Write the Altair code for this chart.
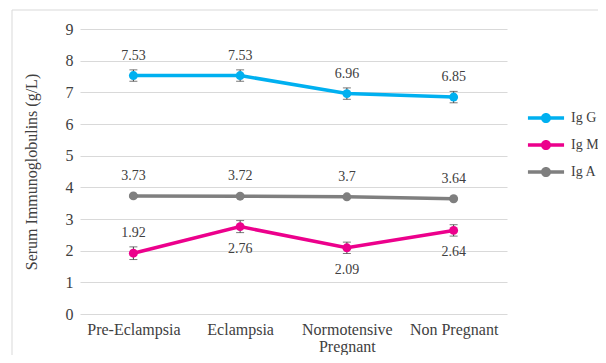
import altair as alt
import pandas as pd

categories = ["Pre-Eclampsia", "Eclampsia", "Normotensive\nPregnant", "Non Pregnant"]
series_names = ["Ig G", "Ig M", "Ig A"]
igg = [7.53, 7.53, 6.96, 6.85]
igm = [1.92, 2.76, 2.09, 2.64]
iga = [3.73, 3.72, 3.70, 3.64]
igg_err = [0.18, 0.18, 0.18, 0.18]
igm_err = [0.20, 0.19, 0.18, 0.18]
iga_err = [0.03, 0.03, 0.03, 0.03]
y_ticks = [0, 1, 2, 3, 4, 5, 6, 7, 8, 9]
colors = ["#00B0F0", "#EC008C", "#7F7F7F"]

rows = []
for name, vals, errs in zip(series_names, [igg, igm, iga], [igg_err, igm_err, iga_err]):
    for i, (c, v, e) in enumerate(zip(categories, vals, errs)):
        rows.append({"cat": c, "idx": i, "series": name, "value": v,
                     "lo": v - e, "hi": v + e, "label": f"{v:g}"})
df = pd.DataFrame(rows)

FONT = "Liberation Serif"
TXT = "#404040"

x_axis = alt.Axis(labelExpr="split(datum.label, '\\n')", labelAngle=0,
                  labelFontSize=16, labelFont=FONT, labelColor=TXT,
                  labelPadding=7, labelLineHeight=17, ticks=False,
                  domain=False, grid=False, labelOverlap=False)
y_axis = alt.Axis(values=y_ticks, labelFontSize=16, labelFont=FONT,
                  labelColor=TXT, titleFont=FONT, titleFontSize=16,
                  titleColor=TXT, titleFontWeight="normal", labelOverlap=False,
                  titlePadding=26, labelPadding=7, ticks=False,
                  domain=False, gridColor="#D9D9D9", gridWidth=1)
y_scale = alt.Scale(domain=[0, 9], nice=False)
X = alt.X("cat:N", sort=categories, title=None,
          scale=alt.Scale(type="point", padding=0.5), axis=x_axis)

legend_path = ("M-1.29,-0.125 L1.29,-0.125 L1.29,0.125 L-1.29,0.125 Z "
               "M0.36,0 A0.36,0.36 0 1,1 -0.36,0 A0.36,0.36 0 1,1 0.36,0 Z")
legend = alt.Legend(title=None, orient="none", legendX=452, legendY=75,
                    symbolType=legend_path, symbolSize=784,
                    symbolStrokeWidth=0, rowPadding=6,
                    labelFont=FONT, labelFontSize=14,
                    labelColor=TXT, labelOffset=11, padding=0)
C = alt.Color("series:N", scale=alt.Scale(domain=series_names, range=colors),
              legend=legend)


def Y(field):
    return alt.Y(field, scale=y_scale, title="Serum  Immunoglobulins (g/L)", axis=y_axis)


base = alt.Chart(df)

frame_data = pd.DataFrame({"a": [0]})
border_left = alt.Chart(frame_data).mark_rule(color="#D9D9D9", strokeWidth=1).encode(
    x=alt.value(-68), y=alt.value(-19), y2=alt.value(400))
border_top = alt.Chart(frame_data).mark_rule(color="#D9D9D9", strokeWidth=1).encode(
    x=alt.value(-68), x2=alt.value(700), y=alt.value(-19))

lines = base.mark_line(strokeWidth=3.5).encode(x=X, y=Y("value:Q"), color=C)

points = base.mark_point(filled=True, size=80, opacity=1).encode(
    x=X, y=Y("value:Q"), color=C)

err_rule = base.mark_rule(color="#404040", strokeWidth=1).encode(
    x=X, y=Y("lo:Q"), y2="hi:Q")
cap_lo = base.mark_tick(color="#404040", thickness=1, size=8).encode(x=X, y=Y("lo:Q"))
cap_hi = base.mark_tick(color="#404040", thickness=1, size=8).encode(x=X, y=Y("hi:Q"))

below_cond = "datum.series == 'Ig M' && datum.idx > 0"
labels_above = base.transform_filter("!(" + below_cond + ")").mark_text(
    font=FONT, fontSize=14, color=TXT, dy=-20, baseline="middle"
).encode(x=X, y=Y("value:Q"), text="label:N")
labels_below = base.transform_filter(below_cond).mark_text(
    font=FONT, fontSize=14, color=TXT, dy=22, baseline="middle"
).encode(x=X, y=Y("value:Q"), text="label:N")

chart = alt.layer(border_left, border_top, lines, err_rule, cap_lo, cap_hi, points,
                  labels_above, labels_below).properties(
    width=427, height=285,
    background="white",
    autosize=alt.AutoSizeParams(type="none"),
    padding={"left": 72, "top": 21, "right": 91, "bottom": 41},
).configure_view(strokeWidth=0, stroke="transparent")

chart.save("out.html", embed_options={"renderer": "svg", "actions": False})
